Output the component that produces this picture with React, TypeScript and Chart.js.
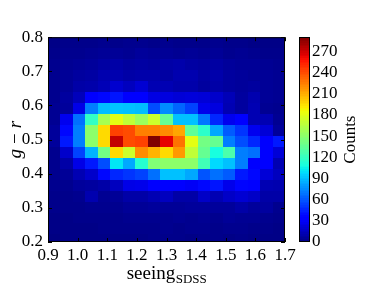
import React, { useEffect, useRef } from "react";
import { Chart, registerables } from "chart.js";

Chart.register(...registerables);

// histogram extent (bin edges)
const xRange = [0.9, 1.7];
const yRange = [0.19, 0.8];
const nx = 19;

// counts, rows from top (g-r = 0.8) to bottom
const row00 = [2, 3, 3, 3, 4, 3, 4, 4, 3, 4, 3, 3, 3, 4, 3, 3, 2, 2, 2];
const row01 = [3, 4, 4, 5, 6, 6, 5, 7, 6, 6, 5, 6, 5, 6, 4, 5, 4, 3, 3];
const row02 = [4, 5, 6, 7, 9, 10, 8, 9, 8, 10, 11, 9, 8, 9, 7, 6, 6, 5, 4];
const row03 = [4, 6, 8, 9, 12, 12, 10, 11, 11, 9, 12, 12, 9, 11, 8, 7, 6, 6, 5];
const row04 = [4, 6, 10, 11, 14, 20, 16, 21, 13, 13, 11, 11, 8, 10, 8, 7, 8, 6, 5];
const row05 = [4, 8, 15, 36, 38, 42, 35, 34, 25, 24, 22, 23, 22, 19, 14, 8, 12, 6, 5];
const row06 = [5, 7, 26, 72, 90, 92, 91, 90, 58, 76, 65, 55, 27, 24, 13, 8, 13, 5, 4];
const row07 = [5, 28, 68, 119, 160, 182, 169, 156, 173, 137, 91, 91, 70, 47, 28, 35, 13, 13, 5];
const row08 = [7, 38, 72, 151, 197, 244, 241, 225, 225, 221, 213, 135, 117, 84, 62, 51, 28, 22, 7];
const row09 = [7, 43, 72, 151, 197, 273, 241, 244, 290, 264, 229, 182, 142, 137, 72, 58, 47, 34, 43];
const row10 = [4, 19, 55, 87, 142, 197, 173, 221, 209, 197, 217, 169, 137, 110, 128, 72, 68, 34, 22];
const row11 = [4, 10, 26, 43, 58, 102, 84, 115, 147, 151, 151, 151, 124, 98, 91, 72, 35, 33, 13];
const row12 = [4, 6, 13, 19, 38, 47, 51, 55, 68, 91, 91, 84, 60, 68, 62, 43, 38, 22, 16];
const row13 = [4, 4, 7, 8, 10, 16, 26, 27, 34, 35, 35, 30, 38, 42, 27, 37, 36, 13, 12];
const row14 = [3, 3, 4, 12, 5, 6, 10, 10, 13, 16, 10, 10, 18, 13, 18, 21, 18, 10, 10];
const row15 = [3, 3, 3, 4, 4, 4, 6, 6, 7, 6, 6, 7, 7, 7, 7, 10, 7, 8, 4];
const row16 = [2, 2, 3, 3, 3, 3, 4, 4, 4, 4, 5, 4, 5, 4, 6, 5, 5, 4, 3];
const row17 = [2, 2, 2, 2, 3, 3, 3, 3, 3, 4, 3, 4, 4, 3, 4, 4, 3, 3, 2];
const row18 = [1, 2, 2, 2, 2, 2, 2, 2, 3, 3, 3, 2, 3, 3, 2, 3, 2, 2, 2];
const rows = [row00, row01, row02, row03, row04, row05, row06, row07, row08, row09,
  row10, row11, row12, row13, row14, row15, row16, row17, row18];

const xTickLabels = ["0.9", "1.0", "1.1", "1.2", "1.3", "1.4", "1.5", "1.6", "1.7"];
const yTickLabels = ["0.2", "0.3", "0.4", "0.5", "0.6", "0.7", "0.8"];
const cbTickLabels = ["0", "30", "60", "90", "120", "150", "180", "210", "240", "270"];
const cbMax = 290;

const FONT = "'Liberation Serif', 'Times New Roman', serif";

const jetR = [[0, 0], [0.35, 0], [0.66, 1], [0.89, 1], [1, 0.5]];
const jetG = [[0, 0], [0.125, 0], [0.375, 1], [0.64, 1], [0.91, 0], [1, 0]];
const jetB = [[0, 0.5], [0.11, 1], [0.34, 1], [0.65, 0], [1, 0]];
function interp(pts: number[][], t: number) {
  for (let i = 1; i < pts.length; i++) {
    if (t <= pts[i][0]) {
      const [x0, y0] = pts[i - 1];
      const [x1, y1] = pts[i];
      return y0 + ((t - x0) / (x1 - x0)) * (y1 - y0);
    }
  }
  return pts[pts.length - 1][1];
}
function jet(v: number) {
  const t = Math.max(0, Math.min(1, v / cbMax));
  const r = Math.round(interp(jetR, t) * 255);
  const g = Math.round(interp(jetG, t) * 255);
  const b = Math.round(interp(jetB, t) * 255);
  return `rgb(${r},${g},${b})`;
}

function xs_ticks(ctx: any, s: any, a: any) {
  s.ticks.forEach((t: any) => {
    const x = Math.round(s.getPixelForValue(t.value)) + 0.5;
    ctx.beginPath();
    ctx.moveTo(x, a.bottom); ctx.lineTo(x, a.bottom - 4);
    ctx.moveTo(x, a.top); ctx.lineTo(x, a.top + 4);
    ctx.stroke();
  });
}
function ys_ticks(ctx: any, s: any, a: any) {
  s.ticks.forEach((t: any) => {
    const y = Math.round(s.getPixelForValue(t.value)) + 0.5;
    ctx.beginPath();
    ctx.moveTo(a.left, y); ctx.lineTo(a.left + 4, y);
    ctx.moveTo(a.right, y); ctx.lineTo(a.right - 4, y);
    ctx.stroke();
  });
}

const heatPlugin = {
  id: "heat",
  beforeDatasetsDraw(chart: any) {
    const { ctx, chartArea: a, scales } = chart;
    const xs = scales.x, ys = scales.y, cb = scales.cb;
    const ny = rows.length;
    const dx = (xRange[1] - xRange[0]) / nx;
    const dy = (yRange[1] - yRange[0]) / ny;
    ctx.save();
    ctx.beginPath();
    ctx.rect(a.left, a.top, a.right - a.left, a.bottom - a.top);
    ctx.clip();
    rows.forEach((row, r) => {
      const yTop = yRange[1] - r * dy;
      const yBot = yTop - dy;
      const p0 = Math.round(ys.getPixelForValue(yTop));
      const p1 = Math.round(ys.getPixelForValue(yBot));
      row.forEach((v, c) => {
        const q0 = Math.round(xs.getPixelForValue(xRange[0] + c * dx));
        const q1 = Math.round(xs.getPixelForValue(xRange[0] + (c + 1) * dx));
        ctx.fillStyle = jet(v);
        ctx.fillRect(q0, p0, q1 - q0, p1 - p0);
      });
    });
    ctx.restore();

    // colorbar
    const cbL = 299, cbW = 11;
    const steps = 120;
    for (let i = 0; i < steps; i++) {
      const v0 = (i / steps) * cbMax;
      const v1 = ((i + 1) / steps) * cbMax;
      const yA = cb.getPixelForValue(v1);
      const yB = cb.getPixelForValue(v0);
      ctx.fillStyle = jet((v0 + v1) / 2);
      ctx.fillRect(cbL, Math.floor(yA), cbW, Math.ceil(yB) - Math.floor(yA));
    }
    ctx.strokeStyle = "#000";
    ctx.lineWidth = 1;
    ctx.strokeRect(cbL + 0.5, Math.round(cb.top) + 0.5, cbW - 1, Math.round(cb.bottom - cb.top) - 1);
  },
  afterDraw(chart: any) {
    const { ctx, chartArea: a, scales } = chart;
    ctx.save();
    ctx.strokeStyle = "#000";
    ctx.lineWidth = 1;
    xs_ticks(ctx, scales.x, a);
    ys_ticks(ctx, scales.y, a);
    ctx.strokeRect(a.left + 0.5, a.top + 0.5, a.right - a.left - 1, a.bottom - a.top - 1);

    ctx.fillStyle = "#000";
    // x title with subscript
    ctx.textBaseline = "alphabetic";
    ctx.font = `19px ${FONT}`;
    const w1 = ctx.measureText("seeing").width;
    ctx.font = `13px ${FONT}`;
    const w2 = ctx.measureText("SDSS").width;
    const cx = (a.left + a.right) / 2;
    const sx = cx - (w1 + w2) / 2;
    ctx.font = `19px ${FONT}`;
    ctx.textAlign = "left";
    ctx.fillText("seeing", sx, 279);
    ctx.font = `13px ${FONT}`;
    ctx.fillText("SDSS", sx + w1 + 0.5, 283);

    // y title g − r
    const cy = (a.top + a.bottom) / 2;
    ctx.save();
    ctx.translate(16, cy);
    ctx.rotate(-Math.PI / 2);
    const gap = 5;
    const parts = [["g", "italic "], ["\u2212", ""], ["r", "italic "]];
    const ws = parts.map(([t, s]) => { ctx.font = `${s}19px ${FONT}`; return ctx.measureText(t).width; });
    const tot = ws[0] + ws[1] + ws[2] + 2 * gap;
    let px = -tot / 2;
    ctx.textBaseline = "middle";
    parts.forEach(([t, s], i) => { ctx.font = `${s}19px ${FONT}`; ctx.fillText(t, px, 0); px += ws[i] + gap; });
    ctx.restore();

    // colorbar label
    ctx.save();
    ctx.translate(351, cy);
    ctx.rotate(-Math.PI / 2);
    ctx.font = `17px ${FONT}`;
    ctx.textAlign = "center";
    ctx.textBaseline = "middle";
    ctx.fillText("Counts", 0, 0);
    ctx.restore();
    ctx.restore();
  },
};

export default function App() {
  const ref = useRef<HTMLCanvasElement | null>(null);
  useEffect(() => {
    if (!ref.current) return;
    const tickFont = { family: FONT, size: 17 };
    const chart = new Chart(ref.current, {
      type: "scatter",
      data: { datasets: [] },
      options: {
        animation: false,
        responsive: false,
        maintainAspectRatio: false,
        devicePixelRatio: 1,
        layout: { padding: { top: 28, left: 0, right: 0, bottom: 0 } },
        plugins: { legend: { display: false }, tooltip: { enabled: false } },
        scales: {
          x: {
            type: "linear", min: xRange[0], max: xRange[1],
            grid: { display: false, drawTicks: false }, border: { display: false },
            ticks: { stepSize: 0.1, autoSkip: false, maxRotation: 0, includeBounds: false, color: "#000", font: tickFont, padding: 3,
              callback: (_v: any, i: number) => xTickLabels[i] },
            afterFit: (s: any) => { s.height = 44; },
          },
          y: {
            type: "linear", min: 0.2, max: yRange[1],
            grid: { display: false, drawTicks: false }, border: { display: false },
            ticks: { stepSize: 0.1, autoSkip: false, includeBounds: false, color: "#000", font: tickFont, padding: 5,
              callback: (_v: any, i: number) => yTickLabels[i] },
            afterFit: (s: any) => { s.width = 48; },
          },
          cb: {
            type: "linear", position: "right", min: 0, max: cbMax,
            grid: { display: false, drawTicks: false }, border: { display: false },
            ticks: { stepSize: 30, autoSkip: false, includeBounds: false, color: "#000", font: tickFont, padding: 27,
              callback: (_v: any, i: number) => cbTickLabels[i] },
            afterFit: (s: any) => { s.width = 97; },
          },
        },
      } as any,
      plugins: [heatPlugin],
    });
    return () => chart.destroy();
  }, []);
  return (
    <div style={{ position: "fixed", left: 0, top: 0, width: 382, height: 286, background: "#fff" }}>
      <canvas ref={ref} width={382} height={286} style={{ display: "block", width: 382, height: 286 }} />
    </div>
  );
}
